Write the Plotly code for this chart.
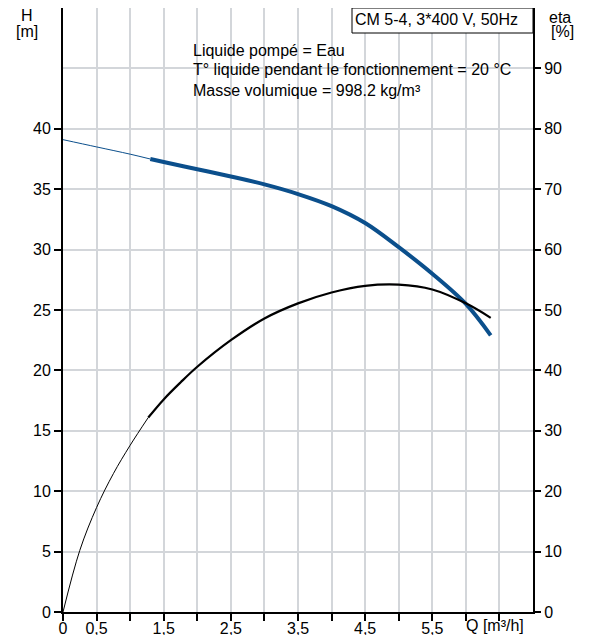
import plotly.graph_objects as go

# ---- data ----
q_h_thin = [0.0, 0.5, 1.0, 1.3]
h_thin = [39.1, 38.5, 37.9, 37.5]
q_h = [1.3, 1.5, 2.0, 2.5, 3.0, 3.5, 4.0, 4.5, 5.0, 5.5, 6.0, 6.37]
h_vals = [37.5, 37.25, 36.65, 36.05, 35.4, 34.6, 33.6, 32.2, 30.2, 28.0, 25.5, 22.9]

q_eta_thin = [0.0, 0.25, 0.5, 0.75, 1.0, 1.27]
eta_thin = [0.0, 10.2, 17.3, 22.9, 27.6, 32.2]
q_eta = [1.27, 1.5, 1.75, 2.0, 2.5, 3.0, 3.5, 4.0, 4.5, 5.0, 5.5, 6.0, 6.37]
eta_vals = [32.2, 35.2, 38.0, 40.6, 45.0, 48.6, 51.1, 52.9, 54.0, 54.2, 53.4, 51.1, 48.7]

x_tickvals = [0, 0.5, 1, 1.5, 2, 2.5, 3, 3.5, 4, 4.5, 5, 5.5, 6, 6.5]
x_ticktext = ["0", "0,5", "", "1,5", "", "2,5", "", "3,5", "", "4,5", "", "5,5", "", ""]
h_ticks = [0, 5, 10, 15, 20, 25, 30, 35, 40]
eta_ticks = [0, 10, 20, 30, 40, 50, 60, 70, 80, 90]

title_box = "CM 5-4, 3*400 V, 50Hz"
info_lines = ["Liquide pompé = Eau",
              "T° liquide pendant le fonctionnement = 20 °C",
              "Masse volumique = 998.2 kg/m³"]

BLUE = "#0b4f8c"
GRID = "#d3d6da"
FONT = "Liberation Sans, Arial, sans-serif"
FS = 16

# page has an 8px body margin; figure sized to fill the rest of the window
OFF = 8
W, H = 597 - OFF, 635 - OFF
L, R, T, B = 63, 533, 8, 612   # plot area in page pixels


def px(x):
    return (x - L) / (R - L)


def py(y):
    return (B - y) / (B - T)


fig = go.Figure()
fig.add_trace(go.Scatter(x=q_h_thin, y=h_thin, mode="lines",
                         line=dict(color=BLUE, width=1, shape="spline"), yaxis="y"))
fig.add_trace(go.Scatter(x=q_h, y=h_vals, mode="lines",
                         line=dict(color=BLUE, width=4, shape="spline"), yaxis="y"))
fig.add_trace(go.Scatter(x=q_eta_thin, y=eta_thin, mode="lines",
                         line=dict(color="black", width=1, shape="spline"), yaxis="y2"))
fig.add_trace(go.Scatter(x=q_eta, y=eta_vals, mode="lines",
                         line=dict(color="black", width=2.2, shape="spline"), yaxis="y2"))

annotations = [
    dict(text="H", x=px(27), y=py(16), xanchor="center", yanchor="middle"),
    dict(text="[m]", x=px(27), y=py(31), xanchor="center", yanchor="middle"),
    dict(text="eta", x=px(560), y=py(17), xanchor="center", yanchor="middle"),
    dict(text="[%]", x=px(562), y=py(31), xanchor="center", yanchor="middle"),
    dict(text="Q [m³/h]", x=px(465), y=py(625), xanchor="left", yanchor="middle"),
    dict(text=title_box, x=px(354), y=py(19), xanchor="left", yanchor="middle"),
]
for i, line in enumerate(info_lines):
    annotations.append(dict(text=line, x=px(192), y=py(50 + 20 * i),
                            xanchor="left", yanchor="middle"))
for a in annotations:
    a.update(xref="paper", yref="paper", showarrow=False, borderpad=0,
             font=dict(family=FONT, size=FS, color="black"))

shapes = [
    dict(type="rect", xref="paper", yref="paper", x0=px(190), x1=px(516),
         y0=py(100), y1=py(37), fillcolor="white", line=dict(width=0), layer="between"),
    dict(type="rect", xref="paper", yref="paper", x0=px(352), x1=1,
         y0=py(33), y1=1, fillcolor="white", line=dict(color="black", width=1), layer="above"),
]

axis_common = dict(showline=True, linecolor="black", linewidth=2,
                   ticks="outside", tickwidth=2, tickcolor="black",
                   zeroline=False, automargin=False,
                   tickfont=dict(family=FONT, size=FS, color="black"))

fig.update_layout(
    width=W, height=H,
    margin=dict(l=L - OFF, r=W + OFF - R, t=T - OFF, b=H + OFF - B, pad=0),
    paper_bgcolor="white", plot_bgcolor="white",
    showlegend=False,
    font=dict(family=FONT, size=FS, color="black"),
    annotations=annotations,
    shapes=shapes,
    xaxis=dict(range=[0, 7], tickvals=x_tickvals, ticktext=x_ticktext,
               showgrid=True, gridcolor=GRID, gridwidth=1.5, mirror=True,
               ticklen=7, ticklabelstandoff=-6, **axis_common),
    yaxis=dict(range=[0, 50], tickvals=h_ticks, showgrid=False,
               ticklen=7, **axis_common),
    yaxis2=dict(range=[0, 100], tickvals=eta_ticks, overlaying="y", side="right",
                showgrid=True, gridcolor=GRID, gridwidth=1.5,
                ticklen=6, **axis_common),
)

fig.write_html("out.html")
